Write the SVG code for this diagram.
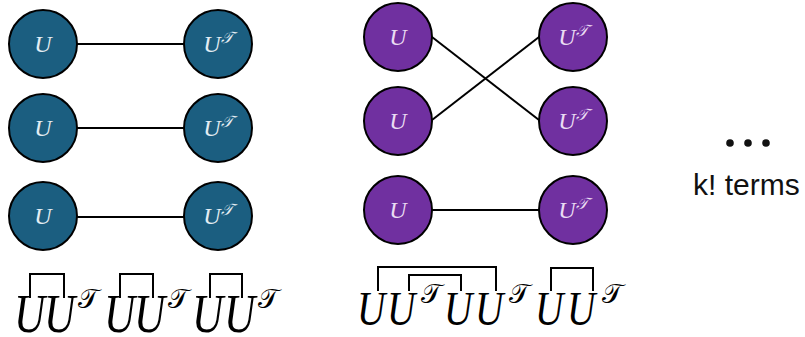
<svg xmlns="http://www.w3.org/2000/svg" width="805" height="337" viewBox="0 0 805 337">
<style>
.blue{fill:#1b5e80;stroke:#000;stroke-width:2}
.purple{fill:#7030a0;stroke:#000;stroke-width:2}
.conn{stroke:#000;stroke-width:2;fill:none}
.lb{font-family:"Liberation Serif","DejaVu Serif",serif;font-style:italic;font-size:24px;fill:#e3edf3;text-anchor:middle}
.lp{font-family:"Liberation Serif","DejaVu Serif",serif;font-style:italic;font-size:24px;fill:#eadcf3;text-anchor:middle}
.sup{font-size:16px}
.f{font-family:"Liberation Serif","DejaVu Serif",serif;font-style:italic;font-size:54px;fill:#000}
.f2{font-family:"Liberation Serif","DejaVu Serif",serif;font-style:italic;font-size:49px;fill:#000}
.fs{font-family:"Liberation Serif","DejaVu Serif",serif;font-size:27px;fill:#000}
.br{stroke:#000;stroke-width:2;fill:none}
.k{font-family:"Liberation Sans",Arial,sans-serif;font-size:30px;fill:#111}
</style>
<rect width="805" height="337" fill="#fff"/>
<g id="connectors">
<line class="conn" x1="77" y1="44" x2="184" y2="44"/>
<line class="conn" x1="77" y1="128" x2="184" y2="128"/>
<line class="conn" x1="77" y1="217" x2="184" y2="217"/>
<line class="conn" x1="432" y1="37" x2="539" y2="120"/>
<line class="conn" x1="432" y1="120" x2="539" y2="37"/>
<line class="conn" x1="432" y1="210" x2="539" y2="210"/>
</g>
<g id="b-u1"><circle class="blue" cx="43" cy="44" r="34"/><text class="lb" x="43" y="52">U</text></g>
<g id="b-u2"><circle class="blue" cx="43" cy="128" r="34"/><text class="lb" x="43" y="136">U</text></g>
<g id="b-u3"><circle class="blue" cx="43" cy="216" r="34"/><text class="lb" x="43" y="224">U</text></g>
<g id="b-t1"><circle class="blue" cx="218" cy="44" r="34"/><text class="lb" x="218" y="52">U<tspan class="sup" dy="-9">𝒯</tspan></text></g>
<g id="b-t2"><circle class="blue" cx="218" cy="128" r="34"/><text class="lb" x="218" y="136">U<tspan class="sup" dy="-9">𝒯</tspan></text></g>
<g id="b-t3"><circle class="blue" cx="218" cy="216" r="34"/><text class="lb" x="218" y="224">U<tspan class="sup" dy="-9">𝒯</tspan></text></g>
<g id="p-u1"><circle class="purple" cx="398" cy="37" r="34"/><text class="lp" x="398" y="45">U</text></g>
<g id="p-u2"><circle class="purple" cx="398" cy="121" r="34"/><text class="lp" x="398" y="129">U</text></g>
<g id="p-u3"><circle class="purple" cx="398" cy="210" r="34"/><text class="lp" x="398" y="218">U</text></g>
<g id="p-t1"><circle class="purple" cx="573" cy="37" r="34"/><text class="lp" x="573" y="45">U<tspan class="sup" dy="-9">𝒯</tspan></text></g>
<g id="p-t2"><circle class="purple" cx="573" cy="121" r="34"/><text class="lp" x="573" y="129">U<tspan class="sup" dy="-9">𝒯</tspan></text></g>
<g id="p-t3"><circle class="purple" cx="573" cy="210" r="34"/><text class="lp" x="573" y="218">U<tspan class="sup" dy="-9">𝒯</tspan></text></g>
<g id="formula-left">
<path class="br" d="M30,298 V274 H64 V298"/>
<path class="br" d="M120,298 V274 H153 V298"/>
<path class="br" d="M210,298 V274 H242 V298"/>
<text class="f" transform="translate(14,332) scale(0.8,1)">U</text>
<text class="f" transform="translate(44,332) scale(0.8,1)">U</text>
<text class="fs" x="78" y="308">𝒯</text>
<text class="f" transform="translate(104,332) scale(0.8,1)">U</text>
<text class="f" transform="translate(134,332) scale(0.8,1)">U</text>
<text class="fs" x="168" y="308">𝒯</text>
<text class="f" transform="translate(192,332) scale(0.8,1)">U</text>
<text class="f" transform="translate(224,332) scale(0.8,1)">U</text>
<text class="fs" x="258" y="308">𝒯</text>
</g>
<g id="formula-right">
<path class="br" d="M378,291 V267 H496 V291"/>
<path class="br" d="M409,291 V275 H461 V291"/>
<path class="br" d="M551,291 V268 H593 V291"/>
<text class="f2" transform="translate(357,325) scale(0.8,1)">U</text>
<text class="f2" transform="translate(387,325) scale(0.8,1)">U</text>
<text class="fs" x="421" y="303">𝒯</text>
<text class="f2" transform="translate(444,325) scale(0.8,1)">U</text>
<text class="f2" transform="translate(475,325) scale(0.8,1)">U</text>
<text class="fs" x="509" y="303">𝒯</text>
<text class="f2" transform="translate(535,325) scale(0.8,1)">U</text>
<text class="f2" transform="translate(567,325) scale(0.8,1)">U</text>
<text class="fs" x="602" y="303">𝒯</text>
</g>
<g id="more">
<circle cx="730" cy="143" r="3.8" fill="#111"/>
<circle cx="748" cy="143" r="3.8" fill="#111"/>
<circle cx="766" cy="143" r="3.8" fill="#111"/>
<text class="k" x="693" y="195">k! terms</text>
</g>
</svg>
